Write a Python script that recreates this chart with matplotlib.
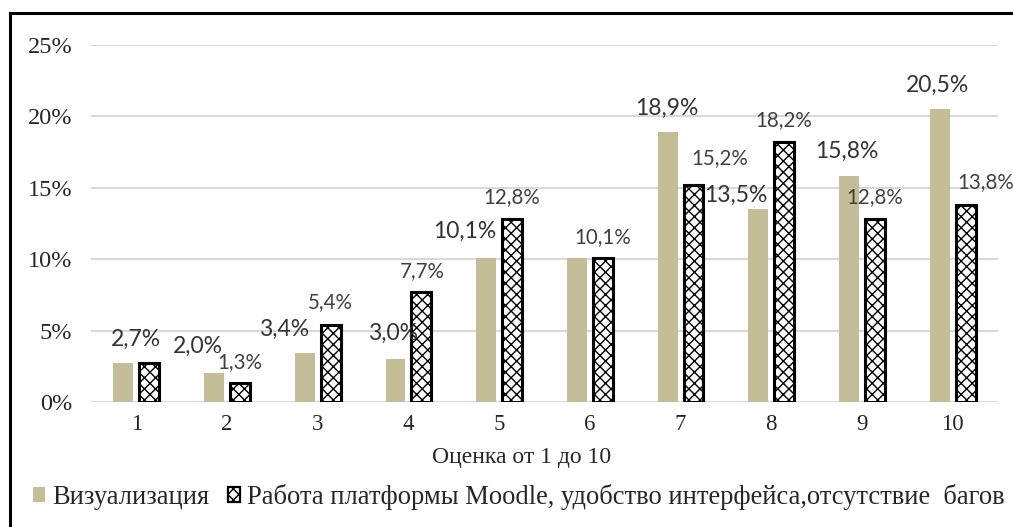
import numpy as np
import matplotlib
matplotlib.use("Agg")
import matplotlib.pyplot as plt
from matplotlib.lines import Line2D
from matplotlib.patches import Patch
from matplotlib.ticker import FuncFormatter

# ==== data ====
scores = [1, 2, 3, 4, 5, 6, 7, 8, 9, 10]
visual = [2.7, 2.0, 3.4, 3.0, 10.1, 10.1, 18.9, 13.5, 15.8, 20.5]
moodle = [2.7, 1.3, 5.4, 7.7, 12.8, 10.1, 15.2, 18.2, 12.8, 13.8]
series_names = ["Визуализация",
                "Работа платформы Moodle, удобство интерфейса,отсутствие  багов"]
x_title = "Оценка от 1 до 10"

# label nudges (pixels, right / down) as in the source, None = no label
visual_lbl_dx = [13, -16, -21, -2, -21, None, -1, -22, -2, -2]
visual_lbl_dy = [-24, -27, -24, -26, -26, None, -24, -14, -25, -24]
moodle_lbl_dx = [None, 0, 0, 1, 0, 0, 26, 0, 0, 20]
moodle_lbl_dy = [None, -21, -23, -21, -22, -21, -27, -22, -22, -23]

W, H = 1013, 527
BEIGE = "#c4bd97"
TXT = "#262626"
SERIF = "Liberation Serif"
SANS = "Lato"

plt.rcParams["hatch.linewidth"] = 1.0

fig = plt.figure(figsize=(W / 100, H / 100), dpi=100)
ax = fig.add_axes([91 / W, 1 - 402 / H, (998 - 91) / W, (402 - 45) / H])

x = np.array(scores, dtype=float)
bw = 0.22
off = 0.143
ax.bar(x - off, visual, bw, color=BEIGE, linewidth=0, zorder=3)
ax.bar(x + off, moodle, bw, facecolor="white", edgecolor="black",
       hatch="xxx", linewidth=2.2, zorder=3)

ax.set_xlim(0.5, 10.5)
ax.set_ylim(0, 25)
ax.set_yticks(np.arange(0, 26, 5))
ax.yaxis.set_major_formatter(FuncFormatter(lambda v, p: f"{v:.0f}%"))
ax.set_xticks(x)
ax.set_xticklabels([str(s) for s in scores])
ax.grid(axis="y", color="#d9d9d9", linewidth=1.5, zorder=0)
for s in ax.spines.values():
    s.set_visible(False)
ax.tick_params(length=0)
ax.tick_params(axis="y", pad=13.5, labelsize=17.5, labelcolor=TXT)
ax.tick_params(axis="x", pad=9, labelsize=16.5, labelcolor=TXT)
for t in ax.get_xticklabels() + ax.get_yticklabels():
    t.set_family(SERIF)

fig.text(522 / W, 1 - 458 / H, x_title, ha="center", va="center",
         family=SERIF, fontsize=17, color=TXT)


def fmt(v):
    return f"{v:.1f}%".replace(".", ",")


for xi, v, dx, dy in zip(x - off, visual, visual_lbl_dx, visual_lbl_dy):
    if dx is None:
        continue
    ax.annotate(fmt(v), (xi, v), xytext=(dx, -dy), textcoords="offset pixels",
                ha="center", va="center", family=SANS, fontsize=16.5,
                color="#333333", zorder=5, annotation_clip=False)
for xi, v, dx, dy in zip(x + off, moodle, moodle_lbl_dx, moodle_lbl_dy):
    if dx is None:
        continue
    ax.annotate(fmt(v), (xi, v), xytext=(dx, -dy), textcoords="offset pixels",
                ha="center", va="center", family=SANS, fontsize=14.8,
                color="#404040", zorder=5, annotation_clip=False)

handles = [Patch(facecolor=BEIGE, edgecolor="none"),
           Patch(facecolor="white", edgecolor="black", hatch="xxx", linewidth=1.6)]
fig.legend(handles, series_names, loc="center left",
           bbox_to_anchor=(33 / W, 1 - 497 / H), ncol=2, frameon=False,
           handlelength=0.45, handleheight=0.45, handletextpad=0.28,
           columnspacing=0.7, prop={"family": SERIF, "size": 19.1},
           labelcolor=TXT, borderaxespad=0, borderpad=0)

# outer frame (left and top edges visible in the source)
fig.add_artist(Line2D([10 / W, 10 / W], [0, 1 - 13 / H], color="black",
                      linewidth=2.2, transform=fig.transFigure))
fig.add_artist(Line2D([10 / W, 1], [1 - 13 / H, 1 - 13 / H], color="black",
                      linewidth=2.2, transform=fig.transFigure))

fig.savefig("out.png", dpi=100)
